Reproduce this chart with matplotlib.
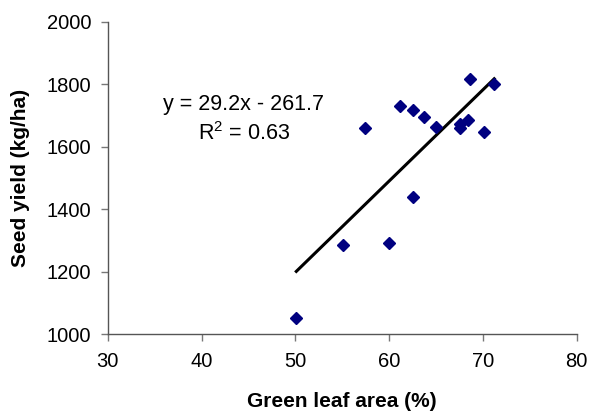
import numpy as np
import matplotlib
matplotlib.use('Agg')
import matplotlib.pyplot as plt

plt.rcParams['font.family'] = ['Liberation Sans', 'DejaVu Sans']

# green leaf area (%) vs seed yield (kg/ha)
leaf_area = [50.1, 55.1, 57.4, 60.0, 61.2, 62.5, 62.5, 63.7, 65.0, 67.5, 67.6, 68.4, 68.6, 70.1, 71.2]
seed_yield = [1051, 1285, 1659, 1291, 1730, 1717, 1438, 1696, 1664, 1674, 1659, 1685, 1817, 1648, 1800]

slope = 29.2
intercept = -261.7
r2 = 0.63

fig = plt.figure(figsize=(5.9, 4.18), dpi=100)
ax = fig.add_axes([0.1826, 0.2002, 0.795, 0.748])

ax.plot(leaf_area, seed_yield, linestyle='none', marker='D', markersize=6.2,
        color='#000080', zorder=3)

xfit = np.array([min(leaf_area), max(leaf_area)])
ax.plot(xfit, slope * xfit + intercept, color='black', linewidth=2.2, zorder=2)

ax.set_xlim(30, 80)
ax.set_ylim(1000, 2000)
ax.set_xticks(range(30, 81, 10))
ax.set_yticks(range(1000, 2001, 200))

for s in ['top', 'right']:
    ax.spines[s].set_visible(False)
for s in ['left', 'bottom']:
    ax.spines[s].set_color('#555555')
    ax.spines[s].set_linewidth(1)
ax.tick_params(labelsize=14.5, length=5, color='#777777', width=1)
ax.tick_params(axis='x', pad=8)
ax.tick_params(axis='y', pad=7)

ax.set_xlabel('Green leaf area (%)', fontsize=15, fontweight='bold', labelpad=15)
ax.set_ylabel('Seed yield (kg/ha)', fontsize=15, fontweight='bold', labelpad=12)

ax.text(0.29, 0.688, 'y = %.1fx - %.1f\n$\\mathregular{R^2}$ = %.2f' % (slope, -intercept, r2),
        transform=ax.transAxes, ha='center', va='center', fontsize=15.5,
        multialignment='center', linespacing=1.4)

fig.savefig('out.png', dpi=100)
